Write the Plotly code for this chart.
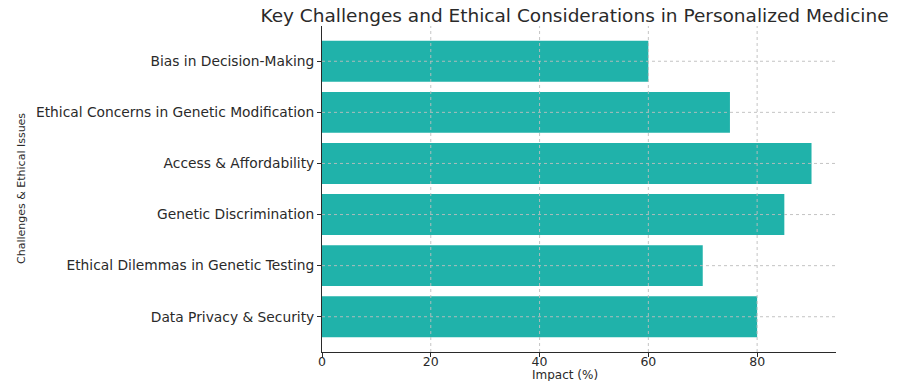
import plotly.graph_objects as go

categories = [
    "Data Privacy & Security",
    "Ethical Dilemmas in Genetic Testing",
    "Genetic Discrimination",
    "Access & Affordability",
    "Ethical Concerns in Genetic Modification",
    "Bias in Decision-Making",
]
impact = [80, 70, 85, 90, 75, 60]
x_ticks = [0, 20, 40, 60, 80]

FONT = "DejaVu Sans"
TXT = "#2a2a2a"
GRID = "rgba(190,190,190,0.9)"

fig = go.Figure(
    go.Bar(
        x=impact,
        y=categories,
        orientation="h",
        width=0.8,
        marker=dict(color="#20B2AA", line=dict(width=0)),
    )
)

# gridlines drawn above the bars, at the tick positions
for v in x_ticks[1:]:
    fig.add_shape(type="line", xref="x", yref="paper", x0=v, x1=v, y0=0, y1=1,
                  line=dict(color=GRID, width=1, dash="dot"), layer="above")
for c in categories:
    fig.add_shape(type="line", xref="paper", yref="y", x0=0, x1=1, y0=c, y1=c,
                  line=dict(color=GRID, width=1, dash="dot"), layer="above")

# axis titles
fig.add_annotation(text="Impact (%)", xref="paper", yref="paper",
                   x=0.5, y=0, xanchor="center", yanchor="middle",
                   xshift=-14, yshift=-23,
                   showarrow=False, font=dict(family=FONT, size=12, color=TXT))
fig.add_annotation(text="Challenges & Ethical Issues", xref="paper", yref="paper",
                   x=0, y=0.5, xanchor="center", yanchor="middle", xshift=-301,
                   textangle=-90, showarrow=False,
                   font=dict(family=FONT, size=11, color=TXT))

fig.update_layout(
    width=901,
    height=381,
    margin=dict(l=322, r=65, t=26, b=29),
    paper_bgcolor="white",
    plot_bgcolor="white",
    showlegend=False,
    font=dict(family=FONT, color=TXT, size=13.5),
    title=dict(
        text="Key Challenges and Ethical Considerations in Personalized Medicine",
        x=574.5 / 901,
        xanchor="center",
        y=1 - 16 / 381,
        yanchor="middle",
        font=dict(family=FONT, size=18.5, color=TXT),
    ),
)

fig.update_xaxes(
    range=[0, 94.5],
    tickvals=x_ticks,
    ticktext=[str(v) for v in x_ticks],
    ticks="outside",
    ticklen=4,
    tickcolor=TXT,
    showline=True,
    linecolor=TXT,
    linewidth=1,
    showgrid=False,
    zeroline=False,
    automargin=False,
    ticklabelstandoff=-6,
    tickfont=dict(family=FONT, size=12.5, color=TXT),
)

fig.update_yaxes(
    range=[-0.69, 5.69],
    categoryorder="array",
    categoryarray=categories,
    ticks="outside",
    ticklen=4,
    tickcolor=TXT,
    showline=True,
    linecolor=TXT,
    linewidth=1,
    showgrid=False,
    zeroline=False,
    automargin=False,
    tickfont=dict(family=FONT, size=13.8, color=TXT),
)

fig.write_html("out.html")
